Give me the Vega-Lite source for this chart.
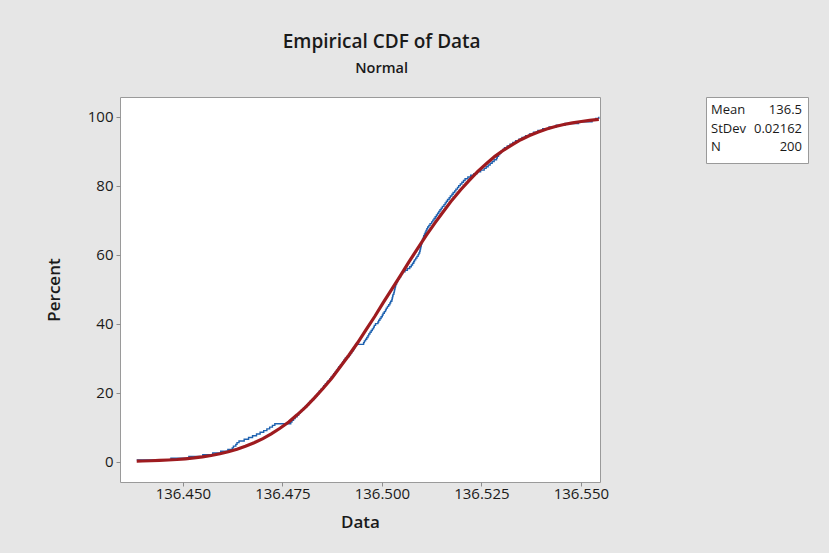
{
  "$schema": "https://vega.github.io/schema/vega-lite/v6.json",
  "background": "#e6e6e6",
  "padding": {"left": 44, "top": 33, "right": 21, "bottom": 22},
  "title": {
    "text": "Empirical CDF of Data",
    "subtitle": "Normal",
    "anchor": "middle",
    "dx": -45,
    "font": "Open Sans",
    "fontSize": 19,
    "fontWeight": 600,
    "color": "#1a1a1a",
    "subtitleFont": "Open Sans",
    "subtitleFontSize": 14.5,
    "subtitleFontWeight": 600,
    "subtitleColor": "#1a1a1a",
    "subtitlePadding": 10,
    "offset": 21
  },
  "datasets": {
    "ecdf": [
      {"Data": 136.4384, "Percent": 0.5}, {"Data": 136.4470, "Percent": 1}, {"Data": 136.4515, "Percent": 1.5}, {"Data": 136.4550, "Percent": 2},
      {"Data": 136.4575, "Percent": 2.5}, {"Data": 136.4595, "Percent": 3}, {"Data": 136.4613, "Percent": 3.5}, {"Data": 136.4624, "Percent": 4},
      {"Data": 136.4627, "Percent": 4.5}, {"Data": 136.4633, "Percent": 5}, {"Data": 136.4636, "Percent": 5.5}, {"Data": 136.4641, "Percent": 6},
      {"Data": 136.4654, "Percent": 6.5}, {"Data": 136.4665, "Percent": 7}, {"Data": 136.4675, "Percent": 7.5}, {"Data": 136.4685, "Percent": 8},
      {"Data": 136.4694, "Percent": 8.5}, {"Data": 136.4703, "Percent": 9}, {"Data": 136.4711, "Percent": 9.5}, {"Data": 136.4718, "Percent": 10},
      {"Data": 136.4725, "Percent": 10.5}, {"Data": 136.4731, "Percent": 11}, {"Data": 136.4771, "Percent": 11.5}, {"Data": 136.4774, "Percent": 12},
      {"Data": 136.4778, "Percent": 12.5}, {"Data": 136.4782, "Percent": 13}, {"Data": 136.4787, "Percent": 13.5}, {"Data": 136.4791, "Percent": 14},
      {"Data": 136.4794, "Percent": 14.5}, {"Data": 136.4798, "Percent": 15}, {"Data": 136.4803, "Percent": 15.5}, {"Data": 136.4807, "Percent": 16},
      {"Data": 136.4812, "Percent": 16.5}, {"Data": 136.4816, "Percent": 17}, {"Data": 136.4820, "Percent": 17.5}, {"Data": 136.4825, "Percent": 18},
      {"Data": 136.4829, "Percent": 18.5}, {"Data": 136.4833, "Percent": 19}, {"Data": 136.4837, "Percent": 19.5}, {"Data": 136.4841, "Percent": 20},
      {"Data": 136.4843, "Percent": 20.5}, {"Data": 136.4847, "Percent": 21}, {"Data": 136.4851, "Percent": 21.5}, {"Data": 136.4854, "Percent": 22},
      {"Data": 136.4858, "Percent": 22.5}, {"Data": 136.4862, "Percent": 23}, {"Data": 136.4865, "Percent": 23.5}, {"Data": 136.4869, "Percent": 24},
      {"Data": 136.4872, "Percent": 24.5}, {"Data": 136.4876, "Percent": 25}, {"Data": 136.4879, "Percent": 25.5}, {"Data": 136.4883, "Percent": 26},
      {"Data": 136.4886, "Percent": 26.5}, {"Data": 136.4889, "Percent": 27}, {"Data": 136.4892, "Percent": 27.5}, {"Data": 136.4896, "Percent": 28},
      {"Data": 136.4899, "Percent": 28.5}, {"Data": 136.4902, "Percent": 29}, {"Data": 136.4905, "Percent": 29.5}, {"Data": 136.4908, "Percent": 30},
      {"Data": 136.4913, "Percent": 30.5}, {"Data": 136.4918, "Percent": 31}, {"Data": 136.4921, "Percent": 31.5}, {"Data": 136.4924, "Percent": 32},
      {"Data": 136.4927, "Percent": 32.5}, {"Data": 136.4930, "Percent": 33}, {"Data": 136.4932, "Percent": 33.5}, {"Data": 136.4934, "Percent": 34},
      {"Data": 136.4954, "Percent": 34.5}, {"Data": 136.4956, "Percent": 35}, {"Data": 136.4959, "Percent": 35.5}, {"Data": 136.4962, "Percent": 36},
      {"Data": 136.4965, "Percent": 36.5}, {"Data": 136.4967, "Percent": 37}, {"Data": 136.4970, "Percent": 37.5}, {"Data": 136.4973, "Percent": 38},
      {"Data": 136.4976, "Percent": 38.5}, {"Data": 136.4979, "Percent": 39}, {"Data": 136.4981, "Percent": 39.5}, {"Data": 136.4984, "Percent": 40},
      {"Data": 136.4990, "Percent": 40.5}, {"Data": 136.4992, "Percent": 41}, {"Data": 136.4995, "Percent": 41.5}, {"Data": 136.4998, "Percent": 42},
      {"Data": 136.5001, "Percent": 42.5}, {"Data": 136.5003, "Percent": 43}, {"Data": 136.5006, "Percent": 43.5}, {"Data": 136.5009, "Percent": 44},
      {"Data": 136.5011, "Percent": 44.5}, {"Data": 136.5014, "Percent": 45}, {"Data": 136.5017, "Percent": 45.5}, {"Data": 136.5020, "Percent": 46},
      {"Data": 136.5022, "Percent": 46.5}, {"Data": 136.5025, "Percent": 47}, {"Data": 136.5026, "Percent": 47.5}, {"Data": 136.5027, "Percent": 48},
      {"Data": 136.5028, "Percent": 48.5}, {"Data": 136.5030, "Percent": 49}, {"Data": 136.5031, "Percent": 49.5}, {"Data": 136.5032, "Percent": 50},
      {"Data": 136.5033, "Percent": 50.5}, {"Data": 136.5034, "Percent": 51}, {"Data": 136.5035, "Percent": 51.5}, {"Data": 136.5037, "Percent": 52},
      {"Data": 136.5039, "Percent": 52.5}, {"Data": 136.5041, "Percent": 53}, {"Data": 136.5044, "Percent": 53.5}, {"Data": 136.5047, "Percent": 54},
      {"Data": 136.5049, "Percent": 54.5}, {"Data": 136.5052, "Percent": 55}, {"Data": 136.5058, "Percent": 55.5}, {"Data": 136.5064, "Percent": 56},
      {"Data": 136.5070, "Percent": 56.5}, {"Data": 136.5074, "Percent": 57}, {"Data": 136.5077, "Percent": 57.5}, {"Data": 136.5080, "Percent": 58},
      {"Data": 136.5082, "Percent": 58.5}, {"Data": 136.5085, "Percent": 59}, {"Data": 136.5088, "Percent": 59.5}, {"Data": 136.5091, "Percent": 60},
      {"Data": 136.5093, "Percent": 60.5}, {"Data": 136.5095, "Percent": 61}, {"Data": 136.5096, "Percent": 61.5}, {"Data": 136.5097, "Percent": 62},
      {"Data": 136.5098, "Percent": 62.5}, {"Data": 136.5099, "Percent": 63}, {"Data": 136.5100, "Percent": 63.5}, {"Data": 136.5101, "Percent": 64},
      {"Data": 136.5102, "Percent": 64.5}, {"Data": 136.5104, "Percent": 65}, {"Data": 136.5105, "Percent": 65.5}, {"Data": 136.5107, "Percent": 66},
      {"Data": 136.5109, "Percent": 66.5}, {"Data": 136.5111, "Percent": 67}, {"Data": 136.5113, "Percent": 67.5}, {"Data": 136.5115, "Percent": 68},
      {"Data": 136.5118, "Percent": 68.5}, {"Data": 136.5121, "Percent": 69}, {"Data": 136.5125, "Percent": 69.5}, {"Data": 136.5128, "Percent": 70},
      {"Data": 136.5131, "Percent": 70.5}, {"Data": 136.5134, "Percent": 71}, {"Data": 136.5137, "Percent": 71.5}, {"Data": 136.5140, "Percent": 72},
      {"Data": 136.5143, "Percent": 72.5}, {"Data": 136.5146, "Percent": 73}, {"Data": 136.5149, "Percent": 73.5}, {"Data": 136.5152, "Percent": 74},
      {"Data": 136.5156, "Percent": 74.5}, {"Data": 136.5159, "Percent": 75}, {"Data": 136.5162, "Percent": 75.5}, {"Data": 136.5165, "Percent": 76},
      {"Data": 136.5169, "Percent": 76.5}, {"Data": 136.5172, "Percent": 77}, {"Data": 136.5176, "Percent": 77.5}, {"Data": 136.5179, "Percent": 78},
      {"Data": 136.5183, "Percent": 78.5}, {"Data": 136.5186, "Percent": 79}, {"Data": 136.5190, "Percent": 79.5}, {"Data": 136.5193, "Percent": 80},
      {"Data": 136.5197, "Percent": 80.5}, {"Data": 136.5201, "Percent": 81}, {"Data": 136.5205, "Percent": 81.5}, {"Data": 136.5209, "Percent": 82},
      {"Data": 136.5216, "Percent": 82.5}, {"Data": 136.5223, "Percent": 83}, {"Data": 136.5231, "Percent": 83.5}, {"Data": 136.5240, "Percent": 84},
      {"Data": 136.5248, "Percent": 84.5}, {"Data": 136.5257, "Percent": 85}, {"Data": 136.5262, "Percent": 85.5}, {"Data": 136.5267, "Percent": 86},
      {"Data": 136.5272, "Percent": 86.5}, {"Data": 136.5277, "Percent": 87}, {"Data": 136.5282, "Percent": 87.5}, {"Data": 136.5288, "Percent": 88},
      {"Data": 136.5290, "Percent": 88.5}, {"Data": 136.5293, "Percent": 89}, {"Data": 136.5296, "Percent": 89.5}, {"Data": 136.5300, "Percent": 90},
      {"Data": 136.5304, "Percent": 90.5}, {"Data": 136.5308, "Percent": 91}, {"Data": 136.5315, "Percent": 91.5}, {"Data": 136.5322, "Percent": 92},
      {"Data": 136.5329, "Percent": 92.5}, {"Data": 136.5336, "Percent": 93}, {"Data": 136.5344, "Percent": 93.5}, {"Data": 136.5352, "Percent": 94},
      {"Data": 136.5361, "Percent": 94.5}, {"Data": 136.5371, "Percent": 95}, {"Data": 136.5381, "Percent": 95.5}, {"Data": 136.5392, "Percent": 96},
      {"Data": 136.5404, "Percent": 96.5}, {"Data": 136.5420, "Percent": 97}, {"Data": 136.5438, "Percent": 97.5}, {"Data": 136.5460, "Percent": 98},
      {"Data": 136.5494, "Percent": 98.5}, {"Data": 136.5528, "Percent": 99}, {"Data": 136.5537, "Percent": 99.5}, {"Data": 136.5545, "Percent": 100}
    ],
    "fit": [
      {"Data": 136.4384, "Percent": 0.15}, {"Data": 136.4398, "Percent": 0.19}, {"Data": 136.4420, "Percent": 0.26}, {"Data": 136.4441, "Percent": 0.35},
      {"Data": 136.4463, "Percent": 0.47}, {"Data": 136.4485, "Percent": 0.62}, {"Data": 136.4506, "Percent": 0.82}, {"Data": 136.4528, "Percent": 1.07},
      {"Data": 136.4549, "Percent": 1.39}, {"Data": 136.4571, "Percent": 1.79}, {"Data": 136.4593, "Percent": 2.28}, {"Data": 136.4614, "Percent": 2.87},
      {"Data": 136.4636, "Percent": 3.59}, {"Data": 136.4657, "Percent": 4.46}, {"Data": 136.4679, "Percent": 5.48}, {"Data": 136.4701, "Percent": 6.68},
      {"Data": 136.4722, "Percent": 8.08}, {"Data": 136.4744, "Percent": 9.68}, {"Data": 136.4766, "Percent": 11.51}, {"Data": 136.4787, "Percent": 13.57},
      {"Data": 136.4809, "Percent": 15.87}, {"Data": 136.4830, "Percent": 18.41}, {"Data": 136.4852, "Percent": 21.19}, {"Data": 136.4874, "Percent": 24.2},
      {"Data": 136.4895, "Percent": 27.43}, {"Data": 136.4917, "Percent": 30.85}, {"Data": 136.4939, "Percent": 34.46}, {"Data": 136.4960, "Percent": 38.21},
      {"Data": 136.4982, "Percent": 42.07}, {"Data": 136.5003, "Percent": 46.02}, {"Data": 136.5025, "Percent": 50}, {"Data": 136.5047, "Percent": 53.98},
      {"Data": 136.5068, "Percent": 57.93}, {"Data": 136.5090, "Percent": 61.79}, {"Data": 136.5111, "Percent": 65.54}, {"Data": 136.5133, "Percent": 69.15},
      {"Data": 136.5155, "Percent": 72.57}, {"Data": 136.5176, "Percent": 75.8}, {"Data": 136.5198, "Percent": 78.81}, {"Data": 136.5220, "Percent": 81.59},
      {"Data": 136.5241, "Percent": 84.13}, {"Data": 136.5263, "Percent": 86.43}, {"Data": 136.5284, "Percent": 88.49}, {"Data": 136.5306, "Percent": 90.32},
      {"Data": 136.5328, "Percent": 91.92}, {"Data": 136.5349, "Percent": 93.32}, {"Data": 136.5371, "Percent": 94.52}, {"Data": 136.5393, "Percent": 95.54},
      {"Data": 136.5414, "Percent": 96.41}, {"Data": 136.5436, "Percent": 97.13}, {"Data": 136.5457, "Percent": 97.72}, {"Data": 136.5479, "Percent": 98.21},
      {"Data": 136.5501, "Percent": 98.61}, {"Data": 136.5522, "Percent": 98.93}, {"Data": 136.5545, "Percent": 99.19}
    ],
    "stats": [
      {"name": "Mean", "value": "136.5"},
      {"name": "StDev", "value": "0.02162"},
      {"name": "N", "value": "200"}
    ]
  },
  "spacing": 95,
  "hconcat": [
    {
      "width": 480,
      "height": 385,
      "layer": [
        {
          "data": {"name": "ecdf"},
          "mark": {"type": "line", "interpolate": "step-after", "color": "#1e62b0", "strokeWidth": 1.4, "clip": true},
          "encoding": {
            "x": {
              "field": "Data",
              "type": "quantitative",
              "title": "Data",
              "scale": {"domain": [136.4342, 136.5548], "nice": false, "zero": false},
              "axis": {
                "values": [136.45, 136.475, 136.5, 136.525, 136.55],
                "format": ".3f",
                "grid": false,
                "domain": false,
                "tickColor": "#8c8c8c",
                "tickSize": 4,
                "labelFont": "Open Sans",
                "labelFontSize": 15,
                "labelColor": "#1a1a1a",
                "labelPadding": 0,
                "labelFlush": false,
                "labelOverlap": false,
                "titleFont": "Open Sans",
                "titleFontSize": 17,
                "titleFontWeight": 600,
                "titleColor": "#1a1a1a",
                "titlePadding": 13
              }
            },
            "y": {
              "field": "Percent",
              "type": "quantitative",
              "title": "Percent",
              "scale": {"domain": [-5.9, 105.7], "nice": false, "zero": false},
              "axis": {
                "values": [0, 20, 40, 60, 80, 100],
                "grid": false,
                "domain": false,
                "tickColor": "#8c8c8c",
                "tickSize": 4,
                "labelFont": "Open Sans",
                "labelFontSize": 15,
                "labelColor": "#1a1a1a",
                "labelPadding": 3,
                "labelFlush": false,
                "labelOverlap": false,
                "titleFont": "Open Sans",
                "titleFontSize": 17,
                "titleFontWeight": 600,
                "titleColor": "#1a1a1a",
                "titlePadding": 24
              }
            },
            "order": {"field": "Percent", "type": "quantitative"}
          }
        },
        {
          "data": {"name": "fit"},
          "mark": {"type": "line", "color": "#9e1b1f", "strokeWidth": 3.2, "strokeCap": "butt", "clip": true},
          "encoding": {
            "x": {"field": "Data", "type": "quantitative"},
            "y": {"field": "Percent", "type": "quantitative"},
            "order": {"field": "Data", "type": "quantitative"}
          }
        }
      ]
    },
    {
      "width": 102,
      "height": 66,
      "data": {"name": "stats"},
      "encoding": {
        "y": {
          "field": "name",
          "type": "nominal",
          "sort": ["Mean", "StDev", "N"],
          "scale": {"type": "point", "padding": 0.784, "align": 0.45},
          "axis": null
        }
      },
      "layer": [
        {
          "mark": {"type": "text", "align": "left", "baseline": "middle", "font": "Open Sans", "fontSize": 13, "color": "#1a1a1a"},
          "encoding": {
            "x": {"datum": 0, "type": "quantitative", "scale": {"domain": [-0.055, 1.066], "nice": false, "zero": false}, "axis": null},
            "text": {"field": "name"}
          }
        },
        {
          "mark": {"type": "text", "align": "right", "baseline": "middle", "font": "Open Sans", "fontSize": 13, "color": "#1a1a1a"},
          "encoding": {
            "x": {"datum": 1, "type": "quantitative"},
            "text": {"field": "value"}
          }
        }
      ]
    }
  ],
  "config": {
    "view": {"stroke": "#9a9a9a", "strokeWidth": 1, "fill": "white"},
    "font": "Open Sans"
  }
}
